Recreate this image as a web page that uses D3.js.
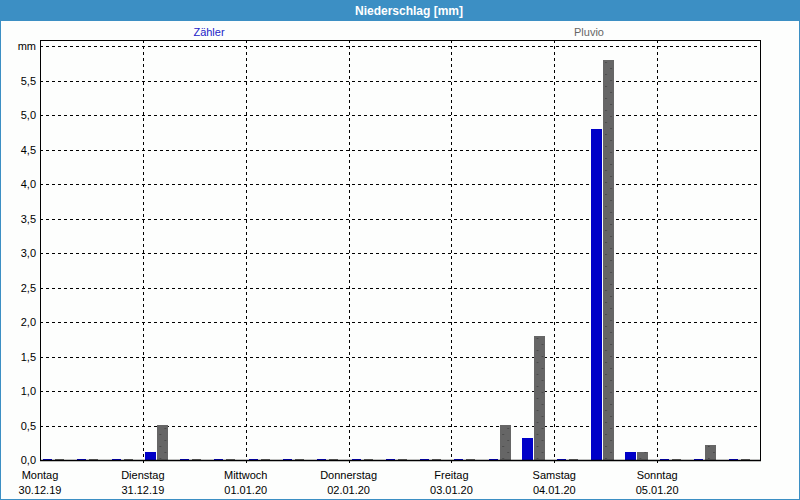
<!DOCTYPE html>
<html><head><meta charset="utf-8">
<script src="https://cdn.jsdelivr.net/npm/d3@7"></script>
<style>
html,body{margin:0;padding:0;background:#fff;}
svg{display:block;font-family:"Liberation Sans",Arial,sans-serif;}
</style></head>
<body><svg id="c" width="800" height="500"></svg>
<script>
const title = "Niederschlag [mm]";
const seriesNames = ["Zähler", "Pluvio"];
const days = ["Montag","Dienstag","Mittwoch","Donnerstag","Freitag","Samstag","Sonntag"];
const dates = ["30.12.19","31.12.19","01.01.20","02.01.20","03.01.20","04.01.20","05.01.20"];
// three 8-hour intervals per day
const zaehler = [0,0,0, 0.12,0,0, 0,0,0, 0,0,0, 0,0,0.32, 0,4.8,0.12, 0,0,0];
const pluvio  = [0,0,0, 0.5,0,0,  0,0,0, 0,0,0, 0,0.5,1.8, 0,5.8,0.12, 0,0.22,0];
const yTicks = [0,0.5,1,1.5,2,2.5,3,3.5,4,4.5,5,5.5,6];
const yUnit = "mm";

const svg = d3.select("#c");
const L = 40, R = 760, T = 40, B = 460;
const nInt = zaehler.length;
const x = d3.scaleLinear().domain([0, nInt]).range([L, R]);
const y = d3.scaleLinear().domain([0, 6]).range([B, 46]);
const loc = d3.formatLocale({decimal: ",", thousands: ".", grouping: [3], currency: ["", "€"]});
const fmt = loc.format(".1f");
const step = x(1) - x(0);

// background + frame
svg.append("rect").attr("x",0).attr("y",0).attr("width",800).attr("height",500).attr("fill","#fdfefd");
svg.append("rect").attr("x",0.5).attr("y",0.5).attr("width",799).attr("height",499).attr("fill","none").attr("stroke","#3c8fc4");
svg.append("rect").attr("x",0).attr("y",0).attr("width",800).attr("height",21).attr("fill","#3c8fc4");
svg.append("text").attr("x",409).attr("y",15).attr("text-anchor","middle").attr("fill","#fff")
  .attr("font-weight","bold").attr("font-size",12).text(title);

// legend
svg.append("text").attr("x",209).attr("y",36).attr("text-anchor","middle").attr("fill","#2424c8").attr("font-size",11).text(seriesNames[0]);
svg.append("text").attr("x",589).attr("y",36).attr("text-anchor","middle").attr("fill","#666").attr("font-size",11).text(seriesNames[1]);

// pattern for gray bars
const defs = svg.append("defs");
const pat = defs.append("pattern").attr("id","dots").attr("patternUnits","userSpaceOnUse")
  .attr("x", L).attr("y", 0).attr("width", step).attr("height", 12);
pat.append("rect").attr("width", step).attr("height", 12).attr("fill","#666666");
pat.append("rect").attr("x",17).attr("y",2).attr("width",1).attr("height",1).attr("fill","#333");
pat.append("rect").attr("x",22).attr("y",8).attr("width",1).attr("height",1).attr("fill","#333");

// horizontal grid
const gy = svg.append("g").attr("transform",`translate(${L},0)`)
  .call(d3.axisLeft(y).tickValues(yTicks.filter(v=>v>0)).tickSize(-(R-L)).tickFormat(""));
gy.select(".domain").remove();
gy.selectAll(".tick line").attr("stroke","#000").attr("stroke-dasharray","3,3").attr("shape-rendering","crispEdges");

// y labels
svg.append("g").selectAll("text").data(yTicks).join("text")
  .attr("x",36).attr("y",d=>y(d)+4).attr("text-anchor","end").attr("font-size",11).attr("fill","#000")
  .text(d=> d===6 ? yUnit : fmt(d));

// vertical grid at day boundaries
const dayIdx = d3.range(1, days.length).map(i=>i*3);
svg.append("g").selectAll("line").data(dayIdx).join("line")
  .attr("x1",d=>Math.round(x(d))+0.5).attr("x2",d=>Math.round(x(d))+0.5).attr("y1",T).attr("y2",B+3)
  .attr("stroke","#000").attr("stroke-dasharray","3,3");

// bars
function bars(data, off, fill){
  svg.append("g").selectAll("rect").data(data).join("rect")
    .attr("x",(d,i)=> Math.round(x(i)) + off + (d>0?0:1))
    .attr("width",d=> d>0 ? 11 : 9)
    .attr("y",d=> d>0 ? Math.round(y(d)) : B-1)
    .attr("height",d=> d>0 ? B - Math.round(y(d)) : 1)
    .attr("fill",fill).attr("shape-rendering","crispEdges");
}
bars(zaehler, 2, "#0000c8");
bars(pluvio, 14, "url(#dots)");

// frame of plot
svg.append("path").attr("d",`M${L+0.5},${B+1}V${T+0.5}H${R+0.5}V${B+0.5}`).attr("fill","none").attr("stroke","#000").attr("shape-rendering","crispEdges");
svg.append("line").attr("x1",L).attr("x2",R+1).attr("y1",B+0.5).attr("y2",B+0.5).attr("stroke","#000").attr("stroke-width",1.5);

// x labels
const xl = svg.append("g").selectAll("g").data(days).join("g")
  .attr("transform",(d,i)=>`translate(${x(i*3)},0)`);
xl.append("text").attr("y",479).attr("text-anchor","middle").attr("font-size",11).attr("fill","#000").text(d=>d);
xl.append("text").attr("y",494).attr("text-anchor","middle").attr("font-size",11).attr("fill","#000").text((d,i)=>dates[i]);
</script></body></html>
